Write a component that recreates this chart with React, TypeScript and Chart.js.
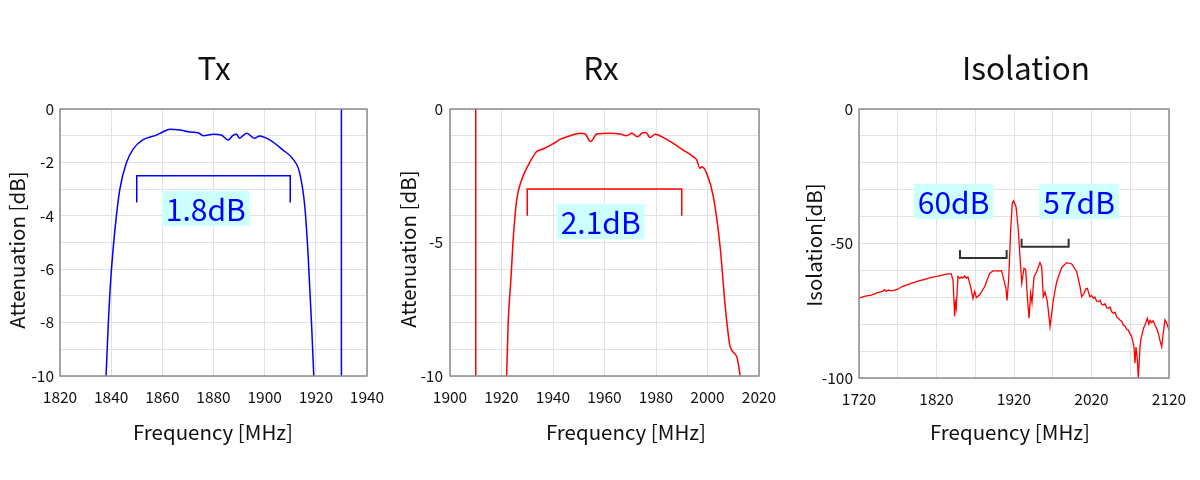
import React, { useEffect, useRef } from 'react';
import { Chart, registerables } from 'chart.js';

Chart.register(...registerables);

const FONT = '"Noto Sans CJK JP", "Noto Sans", sans-serif';

// ---------------- Tx ----------------
const txFreq = [1838, 1838.9, 1839.9, 1841.5, 1843.4, 1846, 1848.6, 1852.5, 1857.7, 1860.3, 1863, 1866.9, 1870.8, 1874, 1876, 1879.9, 1883, 1885.7, 1887.5, 1889, 1890.2, 1891.5, 1893, 1896, 1898, 1902, 1907.2, 1911.1, 1913.7, 1915.7, 1917, 1918.3, 1919.2];
const txAtt = [-10, -8.0, -6.3, -4.5, -3.0, -2.0, -1.5, -1.15, -0.98, -0.85, -0.76, -0.79, -0.86, -0.89, -1.0, -0.95, -0.97, -1.16, -1.0, -0.95, -1.1, -1.0, -0.91, -1.1, -1.01, -1.16, -1.54, -1.88, -2.4, -3.66, -5.5, -8.0, -10];
const txMarkerFreq = [1930, 1930];
const txMarkerAtt = [0, -10];
const txBracketFreq = [1850, 1850, 1910, 1910];
const txBracketAtt = [-3.5, -2.5, -2.5, -3.5];
const txLabels = [{ text: '1.8dB', x: 1877, y: -3.73 }];

// ---------------- Rx ----------------
const rxFreq = [1922, 1922.6, 1923.7, 1924.6, 1925.9, 1927.8, 1930.4, 1933.6, 1936.2, 1940.1, 1942.7, 1946.6, 1950.5, 1952.4, 1954.6, 1957, 1962.1, 1966, 1968.6, 1970.6, 1972.8, 1974.5, 1976.1, 1977.7, 1979.6, 1982.9, 1986.7, 1990.6, 1994.5, 1995.8, 1997.1, 1997.8, 1999.7, 2002.3, 2004.9, 2006.9, 2008.8, 2011.4, 2012.7];
const rxAtt = [-10, -8.0, -6.3, -4.8, -3.4, -2.66, -2.1, -1.6, -1.5, -1.3, -1.14, -1.0, -0.91, -0.93, -1.22, -0.94, -0.91, -0.94, -1.0, -0.91, -1.04, -0.91, -0.88, -1.07, -0.95, -1.07, -1.29, -1.54, -1.79, -1.91, -2.22, -2.16, -2.41, -3.3, -5.16, -7.4, -8.9, -9.29, -10];
const rxMarkerFreq = [1910, 1910];
const rxMarkerAtt = [0, -10];
const rxBracketFreq = [1930, 1930, 1990, 1990];
const rxBracketAtt = [-4, -3, -3, -4];
const rxLabels = [{ text: '2.1dB', x: 1958.5, y: -4.22 }];

// ---------------- Isolation ----------------
const isoFreq = [1720, 1728, 1736, 1744, 1751, 1753, 1755, 1758, 1761, 1765, 1770, 1775, 1780, 1787.5, 1795, 1804.7, 1812, 1822, 1830, 1835, 1839, 1841.3, 1843.4, 1844.4, 1845.5, 1847.7, 1850, 1852, 1854, 1856.4, 1858.5, 1860.6, 1862.8, 1865, 1867, 1869.3, 1871.4, 1875.7, 1882.2, 1888.6, 1892.9, 1899.4, 1903.7, 1905.8, 1908, 1909.5, 1911, 1913.2, 1915.7, 1917.8, 1919.5, 1922.6, 1925.6, 1927.7, 1930, 1932.9, 1935.1, 1937.2, 1939.4, 1941.5, 1943.2, 1945.8, 1949.2, 1953.5, 1955.7, 1957.8, 1960, 1963, 1966.5, 1970.7, 1975.1, 1981.5, 1988, 1994.5, 2000.9, 2005.2, 2007.3, 2010.3, 2012.5, 2014.6, 2018, 2020, 2022.3, 2024.5, 2026.5, 2028.8, 2031, 2033, 2035.2, 2037.5, 2039.5, 2041.7, 2044, 2046, 2048.1, 2050.5, 2052.5, 2054.6, 2057, 2059, 2061, 2063.5, 2065.5, 2067.5, 2069.5, 2071.8, 2073.3, 2074.8, 2076.1, 2077.4, 2079.1, 2080.4, 2082.6, 2084, 2085.6, 2087.3, 2089, 2090.5, 2092, 2094, 2095.5, 2097.6, 2099.5, 2101.9, 2104, 2106.2, 2108.5, 2110.6, 2112.7, 2114.8, 2117, 2120];
const isoDb = [-70.3, -69.6, -69.2, -68.3, -67.7, -67.2, -67.8, -67.3, -67.6, -67.4, -67.0, -66.1, -65.6, -64.8, -64.1, -63.3, -62.7, -62.1, -61.6, -61.3, -61.3, -63.6, -77, -72, -74, -62.3, -63, -62.5, -62.8, -62.1, -62.9, -62.4, -64.7, -67.3, -70.4, -67.8, -70.1, -69.1, -66.0, -61.1, -60.2, -60.2, -60.1, -62.2, -64.8, -66.4, -71.2, -63, -45, -35, -34.1, -36.3, -45, -54.9, -64.8, -59.2, -59.7, -69.8, -77.8, -68.5, -72, -62.3, -60.5, -57.1, -58.6, -69.8, -68, -71.5, -80.9, -71, -64.2, -58.9, -57.1, -57.6, -60.5, -66, -69.8, -68.5, -66.9, -66.7, -69.8, -69.3, -70.4, -70.0, -71.4, -71.6, -71.2, -72.6, -72.9, -72.4, -73.9, -74.1, -73.6, -75.3, -75.9, -75.6, -77.4, -77.8, -78.5, -78.9, -80.3, -80.8, -82, -82.2, -83.5, -84.6, -86.5, -88.4, -94.5, -88.5, -93, -100, -88.4, -85.2, -83.4, -81.4, -80.3, -79.2, -77.8, -80, -78.6, -79.4, -78.7, -80.3, -81.5, -83.4, -86.2, -88.4, -83, -78.4, -79.6, -82.2];
const isoBracket1Freq = [1850.3, 1850.3, 1910.5, 1910.5];
const isoBracket1Db = [-52.4, -55.4, -55.4, -52.4];
const isoBracket2Freq = [1929.8, 1929.8, 1990.5, 1990.5];
const isoBracket2Db = [-48.2, -51.2, -51.2, -48.2];
const isoLabels = [
  { text: '60dB', x: 1842, y: -34.4 },
  { text: '57dB', x: 2004, y: -34.4 },
];

const toPts = (xs: number[], ys: number[]) => xs.map((x, i) => ({ x, y: ys[i] }));

type LabelSpec = { text: string; x: number; y: number };
type PanelSpec = {
  key: string;
  left: number;
  area: { left: number; right: number; top: number; bottom: number };
  title: string;
  titleX: number;
  yTitle: string;
  yTitleX: number;
  yTitleY: number;
  xTitleX: number;
  xMin: number;
  xMax: number;
  xStep: number;
  xLabelEvery: number;
  yMin: number;
  yMax: number;
  yStep: number;
  yLabelEvery: number;
  yTickPad: number;
  datasets: any[];
  labels: LabelSpec[];
};

const lineDs = (data: { x: number; y: number }[], color: string, width: number, smooth = false) => ({
  data,
  borderColor: color,
  borderWidth: width,
  pointRadius: 0,
  fill: false,
  tension: 0,
  cubicInterpolationMode: smooth ? 'monotone' : 'default',
});

const panels: PanelSpec[] = [
  {
    key: 'tx',
    left: 0,
    area: { left: 60, right: 367, top: 109, bottom: 376 },
    title: 'Tx',
    titleX: 214,
    yTitle: 'Attenuation [dB]',
    yTitleX: 17,
    yTitleY: 250,
    xTitleX: 213,
    xMin: 1820,
    xMax: 1940,
    xStep: 20,
    xLabelEvery: 20,
    yMin: -10,
    yMax: 0,
    yStep: 1,
    yLabelEvery: 2,
    yTickPad: 6,
    datasets: [
      lineDs(toPts(txFreq, txAtt), '#0000ff', 1.5, true),
      lineDs(toPts(txMarkerFreq, txMarkerAtt), '#0000ff', 1.5),
      lineDs(toPts(txBracketFreq, txBracketAtt), '#0000ff', 1.5),
    ],
    labels: txLabels,
  },
  {
    key: 'rx',
    left: 400,
    area: { left: 50, right: 359, top: 109, bottom: 376 },
    title: 'Rx',
    titleX: 201,
    yTitle: 'Attenuation [dB]',
    yTitleX: 8,
    yTitleY: 249,
    xTitleX: 226,
    xMin: 1900,
    xMax: 2020,
    xStep: 20,
    xLabelEvery: 20,
    yMin: -10,
    yMax: 0,
    yStep: 1,
    yLabelEvery: 5,
    yTickPad: 7,
    datasets: [
      lineDs(toPts(rxFreq, rxAtt), '#ff0000', 1.5, true),
      lineDs(toPts(rxMarkerFreq, rxMarkerAtt), '#ff0000', 1.5),
      lineDs(toPts(rxBracketFreq, rxBracketAtt), '#ff0000', 1.5),
    ],
    labels: rxLabels,
  },
  {
    key: 'iso',
    left: 800,
    area: { left: 59, right: 369, top: 109, bottom: 378 },
    title: 'Isolation',
    titleX: 226,
    yTitle: 'Isolation[dB]',
    yTitleX: 14,
    yTitleY: 245,
    xTitleX: 210,
    xMin: 1720,
    xMax: 2120,
    xStep: 50,
    xLabelEvery: 100,
    yMin: -100,
    yMax: 0,
    yStep: 10,
    yLabelEvery: 50,
    yTickPad: 6,
    datasets: [
      lineDs(toPts(isoFreq, isoDb), '#ff0000', 1.3),
      lineDs(toPts(isoBracket1Freq, isoBracket1Db), '#333333', 2),
      lineDs(toPts(isoBracket2Freq, isoBracket2Db), '#333333', 2),
    ],
    labels: isoLabels,
  },
];

function makeOverlay(spec: PanelSpec) {
  return {
    id: 'overlay_' + spec.key,
    afterDatasetsDraw(chart: any) {
      const { ctx, chartArea: a, scales } = chart;
      ctx.save();
      ctx.strokeStyle = '#8c8c8c';
      ctx.lineWidth = 1.5;
      ctx.strokeRect(a.left, a.top, a.right - a.left, a.bottom - a.top);
      ctx.font = `30px ${FONT}`;
      ctx.textAlign = 'center';
      ctx.textBaseline = 'middle';
      for (const lab of spec.labels) {
        const px = scales.x.getPixelForValue(lab.x);
        const py = scales.y.getPixelForValue(lab.y);
        const w = ctx.measureText(lab.text).width;
        ctx.fillStyle = '#ccffff';
        ctx.fillRect(px - w / 2 - 4, py - 17.5, w + 8, 35);
        ctx.fillStyle = '#0000ff';
        ctx.fillText(lab.text, px, py + 1);
      }
      ctx.restore();
    },
    afterDraw(chart: any) {
      const { ctx } = chart;
      ctx.save();
      ctx.fillStyle = '#111111';
      ctx.textAlign = 'center';
      ctx.textBaseline = 'middle';
      ctx.font = `31.5px ${FONT}`;
      ctx.fillText(spec.title, spec.titleX, 68);
      ctx.font = `20.5px ${FONT}`;
      ctx.fillText('Frequency [MHz]', spec.xTitleX, 432);
      ctx.translate(spec.yTitleX, spec.yTitleY);
      ctx.rotate(-Math.PI / 2);
      ctx.fillText(spec.yTitle, 0, 0);
      ctx.restore();
    },
  };
}

function Panel({ spec }: { spec: PanelSpec }) {
  const ref = useRef<HTMLCanvasElement>(null);
  useEffect(() => {
    if (!ref.current) return;
    const a = spec.area;
    const chart = new Chart(ref.current, {
      type: 'line',
      data: { datasets: spec.datasets },
      options: {
        animation: false,
        responsive: false,
        devicePixelRatio: 1,
        layout: { padding: { left: 0, top: a.top, right: 400 - a.right, bottom: 0 } },
        plugins: {
          legend: { display: false },
          tooltip: { enabled: false },
          title: { display: false },
        },
        scales: {
          x: {
            type: 'linear',
            min: spec.xMin,
            max: spec.xMax,
            afterFit: (s: any) => {
              s.height = 480 - a.bottom;
            },
            grid: { color: '#e2e2e2', drawTicks: false },
            border: { display: false },
            ticks: {
              stepSize: spec.xStep,
              autoSkip: false,
              maxRotation: 0,
              padding: 12,
              color: '#111111',
              font: { family: FONT, size: 15.5 },
              callback: (v: any) => (Math.abs((Number(v) - spec.xMin) % spec.xLabelEvery) < 1e-6 ? String(v) : ''),
            },
          },
          y: {
            type: 'linear',
            min: spec.yMin,
            max: spec.yMax,
            afterFit: (s: any) => {
              s.width = a.left;
            },
            grid: { color: '#e2e2e2', drawTicks: false },
            border: { display: false },
            ticks: {
              stepSize: spec.yStep,
              autoSkip: false,
              padding: spec.yTickPad,
              color: '#111111',
              font: { family: FONT, size: 15.5 },
              callback: (v: any) => (Math.abs(Number(v) % spec.yLabelEvery) < 1e-6 ? String(v) : ''),
            },
          },
        },
      } as any,
      plugins: [makeOverlay(spec)],
    } as any);
    return () => chart.destroy();
  }, [spec]);
  return (
    <canvas
      ref={ref}
      width={400}
      height={480}
      style={{ position: 'absolute', left: spec.left, top: 0, width: 400, height: 480 }}
    />
  );
}

export default function App() {
  return (
    <div style={{ position: 'fixed', left: 0, top: 0, width: 1200, height: 480, background: '#ffffff' }}>
      {panels.map((p) => (
        <Panel key={p.key} spec={p} />
      ))}
    </div>
  );
}
